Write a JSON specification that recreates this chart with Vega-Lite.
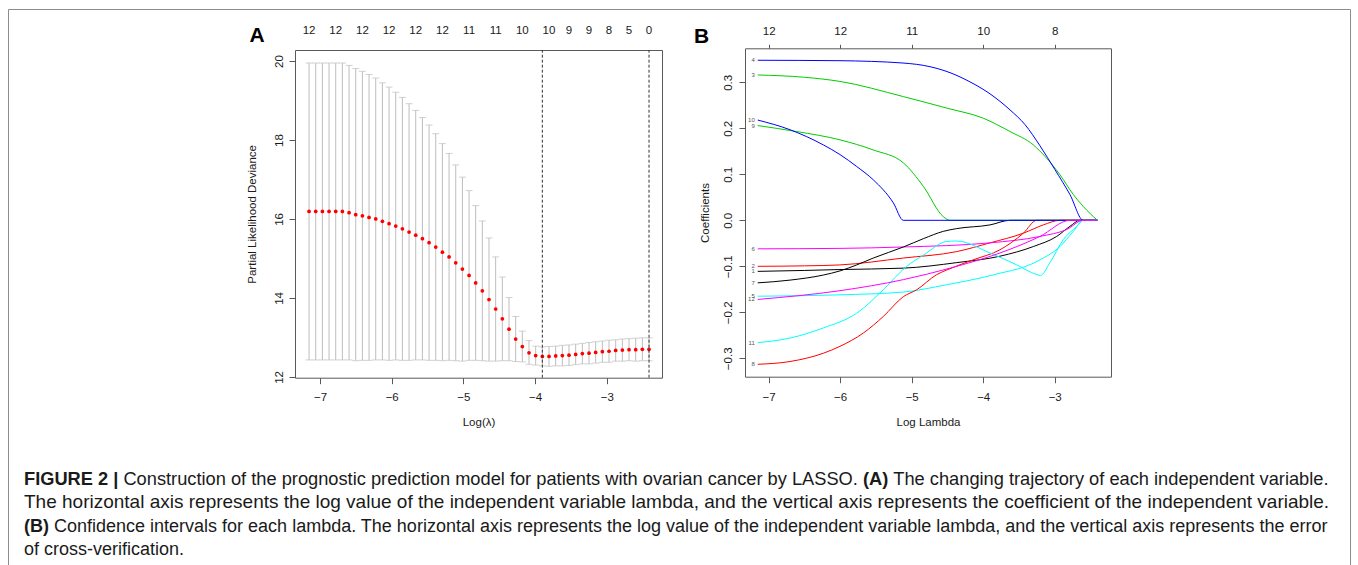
{
"$schema": "https://vega.github.io/schema/vega-lite/v6.json",
"width": 1342,
"height": 570,
"autosize": {"type": "none"},
"padding": {"left": 8, "top": 9, "right": 8, "bottom": 0},
"background": "#ffffff",
"config": {
  "font": "Liberation Sans",
  "view": {"stroke": "#8c8c8c", "strokeWidth": 1},
  "axis": {
    "grid": false, "domainColor": "#595959", "domainWidth": 1, "tickColor": "#595959", "tickWidth": 1, "tickSize": 6,
    "labelFont": "Liberation Sans", "labelFontSize": 11.5, "labelColor": "#1a1a1a", "labelFlush": false, "labelOverlap": false,
    "titleFont": "Liberation Sans", "titleFontSize": 11.5, "titleFontWeight": "normal", "titleColor": "#1a1a1a"
  }
},
"datasets": {
  "cv": [
    {"ll": -7.153, "m": 16.19, "up": 19.95, "lo": 12.43},
    {"ll": -7.060, "m": 16.19, "up": 19.95, "lo": 12.43},
    {"ll": -6.967, "m": 16.19, "up": 19.95, "lo": 12.43},
    {"ll": -6.874, "m": 16.19, "up": 19.95, "lo": 12.43},
    {"ll": -6.781, "m": 16.19, "up": 19.95, "lo": 12.43},
    {"ll": -6.688, "m": 16.19, "up": 19.95, "lo": 12.43},
    {"ll": -6.595, "m": 16.16, "up": 19.89, "lo": 12.43},
    {"ll": -6.502, "m": 16.11, "up": 19.81, "lo": 12.41},
    {"ll": -6.409, "m": 16.08, "up": 19.74, "lo": 12.42},
    {"ll": -6.316, "m": 16.04, "up": 19.66, "lo": 12.42},
    {"ll": -6.223, "m": 16.00, "up": 19.57, "lo": 12.43},
    {"ll": -6.130, "m": 15.94, "up": 19.45, "lo": 12.43},
    {"ll": -6.037, "m": 15.88, "up": 19.34, "lo": 12.42},
    {"ll": -5.944, "m": 15.82, "up": 19.21, "lo": 12.43},
    {"ll": -5.851, "m": 15.75, "up": 19.08, "lo": 12.42},
    {"ll": -5.758, "m": 15.67, "up": 18.92, "lo": 12.42},
    {"ll": -5.665, "m": 15.59, "up": 18.75, "lo": 12.43},
    {"ll": -5.572, "m": 15.50, "up": 18.57, "lo": 12.43},
    {"ll": -5.479, "m": 15.40, "up": 18.38, "lo": 12.42},
    {"ll": -5.386, "m": 15.29, "up": 18.16, "lo": 12.42},
    {"ll": -5.293, "m": 15.16, "up": 17.91, "lo": 12.41},
    {"ll": -5.200, "m": 15.04, "up": 17.66, "lo": 12.42},
    {"ll": -5.107, "m": 14.89, "up": 17.37, "lo": 12.41},
    {"ll": -5.014, "m": 14.73, "up": 17.06, "lo": 12.40},
    {"ll": -4.921, "m": 14.57, "up": 16.72, "lo": 12.42},
    {"ll": -4.829, "m": 14.38, "up": 16.34, "lo": 12.42},
    {"ll": -4.736, "m": 14.18, "up": 15.95, "lo": 12.41},
    {"ll": -4.643, "m": 13.96, "up": 15.52, "lo": 12.40},
    {"ll": -4.550, "m": 13.72, "up": 15.04, "lo": 12.40},
    {"ll": -4.457, "m": 13.47, "up": 14.53, "lo": 12.41},
    {"ll": -4.364, "m": 13.21, "up": 14.01, "lo": 12.41},
    {"ll": -4.271, "m": 12.96, "up": 13.53, "lo": 12.39},
    {"ll": -4.178, "m": 12.77, "up": 13.16, "lo": 12.38},
    {"ll": -4.085, "m": 12.61, "up": 12.92, "lo": 12.32},
    {"ll": -3.992, "m": 12.54, "up": 12.78, "lo": 12.30},
    {"ll": -3.899, "m": 12.52, "up": 12.76, "lo": 12.28},
    {"ll": -3.806, "m": 12.52, "up": 12.77, "lo": 12.27},
    {"ll": -3.713, "m": 12.53, "up": 12.78, "lo": 12.28},
    {"ll": -3.620, "m": 12.54, "up": 12.80, "lo": 12.28},
    {"ll": -3.527, "m": 12.55, "up": 12.81, "lo": 12.29},
    {"ll": -3.434, "m": 12.57, "up": 12.83, "lo": 12.31},
    {"ll": -3.341, "m": 12.59, "up": 12.85, "lo": 12.33},
    {"ll": -3.248, "m": 12.60, "up": 12.87, "lo": 12.33},
    {"ll": -3.155, "m": 12.62, "up": 12.89, "lo": 12.35},
    {"ll": -3.062, "m": 12.64, "up": 12.91, "lo": 12.37},
    {"ll": -2.969, "m": 12.65, "up": 12.93, "lo": 12.37},
    {"ll": -2.876, "m": 12.67, "up": 12.94, "lo": 12.40},
    {"ll": -2.783, "m": 12.68, "up": 12.96, "lo": 12.40},
    {"ll": -2.690, "m": 12.69, "up": 12.97, "lo": 12.41},
    {"ll": -2.597, "m": 12.69, "up": 12.98, "lo": 12.40},
    {"ll": -2.504, "m": 12.70, "up": 12.99, "lo": 12.41},
    {"ll": -2.411, "m": 12.70, "up": 12.99, "lo": 12.41}
  ],
  "nz": [
    {"ll": -7.153, "n": "12"}, {"ll": -6.781, "n": "12"}, {"ll": -6.409, "n": "12"}, {"ll": -6.037, "n": "12"},
    {"ll": -5.665, "n": "12"}, {"ll": -5.293, "n": "12"}, {"ll": -4.921, "n": "11"}, {"ll": -4.550, "n": "11"},
    {"ll": -4.178, "n": "10"}, {"ll": -3.806, "n": "10"}, {"ll": -3.527, "n": "9"}, {"ll": -3.248, "n": "9"},
    {"ll": -2.969, "n": "8"}, {"ll": -2.690, "n": "5"}, {"ll": -2.411, "n": "0"}
  ],
  "mins": [{"ll": -3.899}, {"ll": -2.411}],
  "coef": [
    {"v": "1", "ll": -7.153, "c": -0.111}, {"v": "1", "ll": -6.5, "c": -0.109}, {"v": "1", "ll": -6.003, "c": -0.107}, {"v": "1", "ll": -5.117, "c": -0.104}, {"v": "1", "ll": -4.371, "c": -0.092}, {"v": "1", "ll": -3.765, "c": -0.078}, {"v": "1", "ll": -3.299, "c": -0.057}, {"v": "1", "ll": -2.972, "c": -0.035}, {"v": "1", "ll": -2.786, "c": -0.013}, {"v": "1", "ll": -2.646, "c": 0}, {"v": "1", "ll": -2.404, "c": 0},
    {"v": "2", "ll": -7.153, "c": -0.100}, {"v": "2", "ll": -6.5, "c": -0.099}, {"v": "2", "ll": -6.003, "c": -0.097}, {"v": "2", "ll": -5.117, "c": -0.082}, {"v": "2", "ll": -4.371, "c": -0.068}, {"v": "2", "ll": -3.905, "c": -0.049}, {"v": "2", "ll": -3.439, "c": -0.028}, {"v": "2", "ll": -3.160, "c": -0.010}, {"v": "2", "ll": -2.926, "c": 0}, {"v": "2", "ll": -2.404, "c": 0},
    {"v": "3", "ll": -7.153, "c": 0.316}, {"v": "3", "ll": -6.5, "c": 0.311}, {"v": "3", "ll": -6.003, "c": 0.302}, {"v": "3", "ll": -5.117, "c": 0.269}, {"v": "3", "ll": -4.510, "c": 0.244}, {"v": "3", "ll": -3.999, "c": 0.222}, {"v": "3", "ll": -3.625, "c": 0.193}, {"v": "3", "ll": -3.299, "c": 0.164}, {"v": "3", "ll": -3.136, "c": 0.139}, {"v": "3", "ll": -2.926, "c": 0.099}, {"v": "3", "ll": -2.740, "c": 0.056}, {"v": "3", "ll": -2.600, "c": 0.030}, {"v": "3", "ll": -2.404, "c": 0},
    {"v": "4", "ll": -7.153, "c": 0.348}, {"v": "4", "ll": -6.003, "c": 0.347}, {"v": "4", "ll": -5.122, "c": 0.342}, {"v": "4", "ll": -4.744, "c": 0.334}, {"v": "4", "ll": -4.464, "c": 0.321}, {"v": "4", "ll": -4.185, "c": 0.301}, {"v": "4", "ll": -3.905, "c": 0.275}, {"v": "4", "ll": -3.625, "c": 0.240}, {"v": "4", "ll": -3.415, "c": 0.208}, {"v": "4", "ll": -3.206, "c": 0.162}, {"v": "4", "ll": -2.996, "c": 0.110}, {"v": "4", "ll": -2.787, "c": 0.056}, {"v": "4", "ll": -2.600, "c": 0}, {"v": "4", "ll": -2.404, "c": 0},
    {"v": "5", "ll": -7.153, "c": -0.165}, {"v": "5", "ll": -6.003, "c": -0.162}, {"v": "5", "ll": -5.117, "c": -0.156}, {"v": "5", "ll": -4.510, "c": -0.140}, {"v": "5", "ll": -3.999, "c": -0.124}, {"v": "5", "ll": -3.765, "c": -0.115}, {"v": "5", "ll": -3.439, "c": -0.102}, {"v": "5", "ll": -3.206, "c": -0.086}, {"v": "5", "ll": -2.926, "c": -0.057}, {"v": "5", "ll": -2.740, "c": -0.024}, {"v": "5", "ll": -2.600, "c": 0}, {"v": "5", "ll": -2.404, "c": 0},
    {"v": "6", "ll": -7.153, "c": -0.062}, {"v": "6", "ll": -6.003, "c": -0.061}, {"v": "6", "ll": -5.117, "c": -0.058}, {"v": "6", "ll": -3.905, "c": -0.049}, {"v": "6", "ll": -3.206, "c": -0.035}, {"v": "6", "ll": -2.832, "c": -0.020}, {"v": "6", "ll": -2.600, "c": 0}, {"v": "6", "ll": -2.404, "c": 0},
    {"v": "7", "ll": -7.153, "c": -0.136}, {"v": "7", "ll": -6.702, "c": -0.130}, {"v": "7", "ll": -6.236, "c": -0.119}, {"v": "7", "ll": -6.003, "c": -0.110}, {"v": "7", "ll": -5.769, "c": -0.097}, {"v": "7", "ll": -5.537, "c": -0.082}, {"v": "7", "ll": -5.117, "c": -0.058}, {"v": "7", "ll": -4.838, "c": -0.040}, {"v": "7", "ll": -4.558, "c": -0.024}, {"v": "7", "ll": -4.371, "c": -0.018}, {"v": "7", "ll": -3.905, "c": -0.010}, {"v": "7", "ll": -3.625, "c": 0}, {"v": "7", "ll": -2.404, "c": 0},
    {"v": "8", "ll": -7.153, "c": -0.313}, {"v": "8", "ll": -6.702, "c": -0.307}, {"v": "8", "ll": -6.236, "c": -0.289}, {"v": "8", "ll": -6.003, "c": -0.274}, {"v": "8", "ll": -5.676, "c": -0.245}, {"v": "8", "ll": -5.397, "c": -0.209}, {"v": "8", "ll": -5.117, "c": -0.166}, {"v": "8", "ll": -4.930, "c": -0.151}, {"v": "8", "ll": -4.650, "c": -0.118}, {"v": "8", "ll": -4.510, "c": -0.108}, {"v": "8", "ll": -4.140, "c": -0.086}, {"v": "8", "ll": -3.765, "c": -0.064}, {"v": "8", "ll": -3.439, "c": -0.028}, {"v": "8", "ll": -3.252, "c": 0}, {"v": "8", "ll": -2.404, "c": 0},
    {"v": "9", "ll": -7.153, "c": 0.206}, {"v": "9", "ll": -6.608, "c": 0.193}, {"v": "9", "ll": -6.003, "c": 0.175}, {"v": "9", "ll": -5.537, "c": 0.153}, {"v": "9", "ll": -5.117, "c": 0.125}, {"v": "9", "ll": -4.838, "c": 0.074}, {"v": "9", "ll": -4.558, "c": 0.008}, {"v": "9", "ll": -4.464, "c": 0}, {"v": "9", "ll": -2.404, "c": 0},
    {"v": "10", "ll": -7.153, "c": 0.218}, {"v": "10", "ll": -6.702, "c": 0.197}, {"v": "10", "ll": -6.236, "c": 0.164}, {"v": "10", "ll": -6.003, "c": 0.143}, {"v": "10", "ll": -5.769, "c": 0.117}, {"v": "10", "ll": -5.537, "c": 0.088}, {"v": "10", "ll": -5.257, "c": 0.038}, {"v": "10", "ll": -5.117, "c": 0}, {"v": "10", "ll": -2.404, "c": 0},
    {"v": "11", "ll": -7.153, "c": -0.266}, {"v": "11", "ll": -6.702, "c": -0.256}, {"v": "11", "ll": -6.236, "c": -0.234}, {"v": "11", "ll": -5.769, "c": -0.202}, {"v": "11", "ll": -5.397, "c": -0.151}, {"v": "11", "ll": -5.070, "c": -0.100}, {"v": "11", "ll": -4.838, "c": -0.076}, {"v": "11", "ll": -4.510, "c": -0.046}, {"v": "11", "ll": -4.371, "c": -0.045}, {"v": "11", "ll": -3.905, "c": -0.071}, {"v": "11", "ll": -3.530, "c": -0.097}, {"v": "11", "ll": -3.250, "c": -0.118}, {"v": "11", "ll": -3.200, "c": -0.120}, {"v": "11", "ll": -3.070, "c": -0.093}, {"v": "11", "ll": -2.880, "c": -0.042}, {"v": "11", "ll": -2.690, "c": -0.013}, {"v": "11", "ll": -2.600, "c": 0}, {"v": "11", "ll": -2.404, "c": 0},
    {"v": "12", "ll": -7.153, "c": -0.172}, {"v": "12", "ll": -6.003, "c": -0.153}, {"v": "12", "ll": -5.117, "c": -0.129}, {"v": "12", "ll": -4.464, "c": -0.104}, {"v": "12", "ll": -3.765, "c": -0.071}, {"v": "12", "ll": -3.206, "c": -0.035}, {"v": "12", "ll": -2.786, "c": 0}, {"v": "12", "ll": -2.404, "c": 0}
  ]
},
"layer": [
  {
    "data": {"name": "cv"},
    "layer": [
      {
        "mark": {"type": "rule", "color": "#bdbdbd", "strokeWidth": 1},
        "encoding": {
          "x": {"field": "ll", "type": "quantitative",
                "scale": {"domain": [-7.349, -2.23], "range": [287, 654], "zero": false, "nice": false},
                "axis": {"orient": "bottom", "offset": -201.3, "values": [-7, -6, -5, -4, -3], "title": "Log(λ)", "tickSize": 6, "labelPadding": 8, "titlePadding": 13}},
          "y": {"field": "lo", "type": "quantitative",
                "scale": {"domain": [11.98, 20.28], "range": [368.7, 41], "zero": false, "nice": false},
                "axis": {"orient": "left", "offset": -287, "values": [12, 14, 16, 18, 20], "title": "Partial Likelihood Deviance", "labelAngle": -90, "labelAlign": "center", "labelBaseline": "alphabetic", "labelPadding": 7, "titlePadding": 16}},
          "y2": {"field": "up"}
        }
      },
      {
        "mark": {"type": "tick", "orient": "horizontal", "color": "#bdbdbd", "size": 7, "thickness": 1},
        "encoding": {
          "x": {"field": "ll", "type": "quantitative", "axis": {"orient": "top", "offset": -41, "ticks": false, "labels": false, "title": null}},
          "y": {"field": "up", "type": "quantitative", "axis": {"orient": "right", "offset": -688, "ticks": false, "labels": false, "title": null}}
        }
      },
      {
        "mark": {"type": "tick", "orient": "horizontal", "color": "#bdbdbd", "size": 7, "thickness": 1},
        "encoding": {
          "x": {"field": "ll", "type": "quantitative", "axis": null},
          "y": {"field": "lo", "type": "quantitative", "axis": null}
        }
      },
      {
        "mark": {"type": "circle", "color": "#ff0000", "size": 14, "opacity": 1},
        "encoding": {
          "x": {"field": "ll", "type": "quantitative", "axis": null},
          "y": {"field": "m", "type": "quantitative", "axis": null}
        }
      },
      {
        "data": {"name": "mins"},
        "mark": {"type": "rule", "color": "#333333", "strokeDash": [3, 2], "strokeWidth": 1},
        "encoding": {
          "x": {"field": "ll", "type": "quantitative", "axis": null},
          "y": {"datum": 11.98, "type": "quantitative", "axis": null},
          "y2": {"datum": 20.28}
        }
      },
      {
        "data": {"name": "nz"},
        "mark": {"type": "text", "fontSize": 11.5, "baseline": "middle", "align": "center", "color": "#1a1a1a"},
        "encoding": {
          "x": {"field": "ll", "type": "quantitative", "axis": null},
          "y": {"datum": 20.76, "type": "quantitative", "axis": null},
          "text": {"field": "n"}
        }
      }
    ],
    "resolve": {"axis": {"x": "independent", "y": "independent"}}
  },
  {
    "data": {"name": "coef"},
    "layer": [
      {
        "mark": {"type": "line", "strokeWidth": 1, "interpolate": "monotone"},
        "encoding": {
          "x": {"field": "ll", "type": "quantitative",
                "scale": {"domain": [-7.331, -2.213], "range": [737, 1103], "zero": false, "nice": false},
                "axis": {"orient": "bottom", "offset": -202.3, "values": [-7, -6, -5, -4, -3], "title": "Log Lambda", "tickSize": 6, "labelPadding": 9, "titlePadding": 13}},
          "y": {"field": "c", "type": "quantitative",
                "scale": {"domain": [-0.34, 0.374], "range": [367.7, 39.3], "zero": false, "nice": false},
                "axis": {"orient": "left", "offset": -737, "values": [-0.3, -0.2, -0.1, 0, 0.1, 0.2, 0.3], "format": ".1f", "title": "Coefficients", "labelAngle": -90, "labelAlign": "center", "labelBaseline": "alphabetic", "labelPadding": 8, "titlePadding": 12}},
          "color": {"field": "v", "type": "nominal",
                    "scale": {"domain": ["1","2","3","4","5","6","7","8","9","10","11","12"],
                              "range": ["#000000","#ff0000","#00cd00","#0000ff","#00ffff","#ff00ff","#000000","#ff0000","#00cd00","#0000ff","#00ffff","#ff00ff"]},
                    "legend": null}
        }
      },
      {
        "transform": [{"filter": "datum.ll < -7.1"}],
        "mark": {"type": "text", "align": "right", "baseline": "middle", "dx": -3, "fontSize": 6, "color": "#555555"},
        "encoding": {
          "x": {"field": "ll", "type": "quantitative", "axis": {"orient": "top", "offset": -39.3, "values": [-7, -6, -5, -4, -3], "labelExpr": "['12','12','11','10','8'][datum.value + 7]", "tickSize": 4, "labelPadding": 8, "title": null}},
          "y": {"field": "c", "type": "quantitative", "axis": {"orient": "right", "offset": -239, "ticks": false, "labels": false, "title": null}},
          "text": {"field": "v"}
        }
      }
    ],
    "resolve": {"axis": {"x": "independent", "y": "independent"}}
  },
  {"data": {"values": [{"t": "A"}]}, "mark": {"type": "text", "x": 249, "y": 32.7, "align": "center", "baseline": "alphabetic", "fontSize": 21, "fontWeight": "bold", "color": "#000000"}, "encoding": {"text": {"field": "t"}}},
  {"data": {"values": [{"t": "B"}]}, "mark": {"type": "text", "x": 693.7, "y": 34.3, "align": "center", "baseline": "alphabetic", "fontSize": 21, "fontWeight": "bold", "color": "#000000"}, "encoding": {"text": {"field": "t"}}},
  {"data": {"values": [{"t": "FIGURE 2 |"}]}, "mark": {"type": "text", "x": 16, "y": 475.6, "align": "left", "baseline": "alphabetic", "fontSize": 18.25, "fontWeight": "bold", "color": "#1a1a1a"}, "encoding": {"text": {"field": "t"}}},
  {"data": {"values": [{"t": "Construction of the prognostic prediction model for patients with ovarian cancer by LASSO."}]}, "mark": {"type": "text", "x": 115.4, "y": 475.6, "align": "left", "baseline": "alphabetic", "fontSize": 18.25, "color": "#1a1a1a"}, "encoding": {"text": {"field": "t"}}},
  {"data": {"values": [{"t": "(A)"}]}, "mark": {"type": "text", "x": 854.9, "y": 475.6, "align": "left", "baseline": "alphabetic", "fontSize": 18.25, "fontWeight": "bold", "color": "#1a1a1a"}, "encoding": {"text": {"field": "t"}}},
  {"data": {"values": [{"t": "The changing trajectory of each independent variable."}]}, "mark": {"type": "text", "x": 885.3, "y": 475.6, "align": "left", "baseline": "alphabetic", "fontSize": 18.25, "color": "#1a1a1a"}, "encoding": {"text": {"field": "t"}}},
  {"data": {"values": [{"t": "The horizontal axis represents the log value of the independent variable lambda, and the vertical axis represents the coefficient of the independent variable."}]}, "mark": {"type": "text", "x": 16, "y": 498.8, "align": "left", "baseline": "alphabetic", "fontSize": 19, "color": "#1a1a1a"}, "encoding": {"text": {"field": "t"}}},
  {"data": {"values": [{"t": "(B)"}]}, "mark": {"type": "text", "x": 16, "y": 522.6, "align": "left", "baseline": "alphabetic", "fontSize": 18, "fontWeight": "bold", "color": "#1a1a1a"}, "encoding": {"text": {"field": "t"}}},
  {"data": {"values": [{"t": "Confidence intervals for each lambda. The horizontal axis represents the log value of the independent variable lambda, and the vertical axis represents the error"}]}, "mark": {"type": "text", "x": 46, "y": 522.6, "align": "left", "baseline": "alphabetic", "fontSize": 18, "color": "#1a1a1a"}, "encoding": {"text": {"field": "t"}}},
  {"data": {"values": [{"t": "of cross-verification."}]}, "mark": {"type": "text", "x": 16, "y": 545.6, "align": "left", "baseline": "alphabetic", "fontSize": 18, "color": "#1a1a1a"}, "encoding": {"text": {"field": "t"}}}
],
"resolve": {"scale": {"x": "independent", "y": "independent"}}
}
